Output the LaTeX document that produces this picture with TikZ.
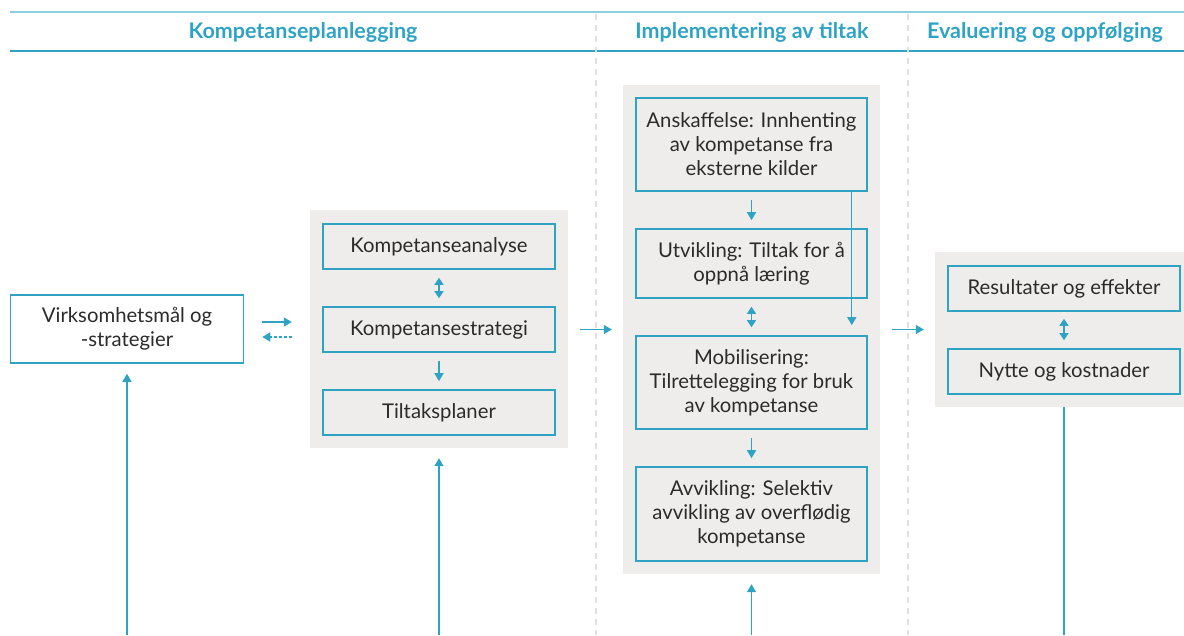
\documentclass[tikz,border=0pt]{standalone}
\usepackage{fontspec}
\setmainfont{Lato}
\usepackage{xcolor}
\usepackage{tikz}
\usetikzlibrary{arrows.meta,positioning,calc}
\definecolor{kTeal}{HTML}{2EA3C4}
\definecolor{kLine}{HTML}{8ACFE2}
\definecolor{kPanel}{HTML}{EFEDEB}
\definecolor{kText}{HTML}{2B2B2B}

\begin{document}
\begin{tikzpicture}[x=1pt, y=-1pt, font=\fontsize{20.3}{24}\selectfont, text=kText,
  bx/.style={draw=kTeal, line width=1.6pt, fill=kPanel, align=center, inner sep=0pt},
  pnl/.style={fill=kPanel, inner sep=0pt},
  hd/.style={font=\fontsize{21.5}{24}\bfseries, text=kTeal},
  arr/.style={kTeal, line width=1.3pt, -{Triangle[length=8pt,width=9pt]}},
  dbl/.style={kTeal, line width=1.3pt, {Triangle[length=7pt,width=9pt]}-{Triangle[length=7pt,width=9pt]}},
  gap/.style={shorten <=8pt, shorten >=8pt}]
\useasboundingbox (0,0) rectangle (1184,635);
% header
\draw[kLine, line width=2pt] (10,12) -- (1184,12);
\draw[kTeal, line width=1.5pt] (10,51) -- (1184,51);
\draw[black!12, line width=1.5pt, dash pattern=on 6pt off 5pt] (596,14) -- (596,635);
\draw[black!12, line width=1.5pt, dash pattern=on 6pt off 5pt] (908,14) -- (908,635);
\node[hd] (h1) at (303,32) {Kompetanseplanlegging};
\node[hd] (h2) at (752,32) {Implementering av tiltak};
\node[hd] (h3) at (1045,32) {Evaluering og oppfølging};
% panels
\node[pnl, minimum width=258pt, minimum height=238pt] (P1) at (439,329) {};
\node[pnl, minimum width=257pt, minimum height=489pt] (P2) at (751.5,329.5) {};
\node[pnl, minimum width=249pt, minimum height=155pt] (P3) at (1059.5,329.5) {};
% boxes
\node[bx, fill=white, minimum width=233pt, minimum height=68pt] (V) at (127,329) {Virksomhetsmål og\\-strategier};
\node[bx, minimum width=232pt, minimum height=45pt] (KA) at (439,246.5) {Kompetanseanalyse};
\node[bx, minimum width=232pt, minimum height=45pt] (KS) at (439,329.5) {Kompetansestrategi};
\node[bx, minimum width=232pt, minimum height=45pt] (TP) at (439,412.5) {Tiltaksplaner};
\node[bx, minimum width=231pt, minimum height=93pt] (A) at (751.5,144.5) {Anskaffelse: Innhenting\\av kompetanse fra\\eksterne kilder};
\node[bx, minimum width=231pt, minimum height=69pt] (U) at (751.5,263.5) {Utvikling: Tiltak for å\\oppnå læring};
\node[bx, minimum width=231pt, minimum height=93pt] (M) at (751.5,382.5) {Mobilisering:\\Tilrettelegging for bruk\\av kompetanse};
\node[bx, minimum width=231pt, minimum height=94pt] (Av) at (751.5,514) {Avvikling: Selektiv\\avvikling av overflødig\\kompetanse};
\node[bx, minimum width=232pt, minimum height=45pt] (R) at (1064,288.5) {Resultater og effekter};
\node[bx, minimum width=232pt, minimum height=45pt] (N) at (1064,371.5) {Nytte og kostnader};
% bottom ends
\coordinate (b1) at (127,635);
\coordinate (b2) at (439,635);
\coordinate (b3) at (751.5,635);
\coordinate (b4) at (1064,635);
% connectors
\draw[arr, shorten <=18pt, shorten >=18pt] ([yshift=7pt]V.east) -- ([yshift=7pt]V.east -| P1.west);
\draw[arr, dashed, dash pattern=on 3pt off 2pt, shorten <=18pt, shorten >=18pt] ([yshift=-8pt]V.east -| P1.west) -- ([yshift=-8pt]V.east);
\draw[dbl, gap] (KA) -- (KS);
\draw[arr, gap] (KS) -- (TP);
\draw[arr, shorten <=12pt, shorten >=11pt] (P1.east |- KS) -- (P2.west |- KS);
\draw[arr, gap] (A) -- (U);
\draw[dbl, gap] (U) -- (M);
\draw[arr, gap] (M) -- (Av);
\draw[arr, shorten >=10pt] ([xshift=-16pt]A.south east) -- ([xshift=-16pt]M.north east);
\draw[arr, shorten <=12pt, shorten >=11pt] (P2.east |- KS) -- (P3.west |- KS);
\draw[dbl, shorten <=7pt, shorten >=8pt] (R) -- (N);
\draw[arr, shorten >=10pt] (b1) -- (V);
\draw[arr, shorten >=10pt] (b2) -- (P1);
\draw[arr, shorten >=10pt] (b3) -- (P2);
\draw[kTeal, line width=1.3pt] (b4) -- (b4 |- P3.south);
\end{tikzpicture}
\end{document}
